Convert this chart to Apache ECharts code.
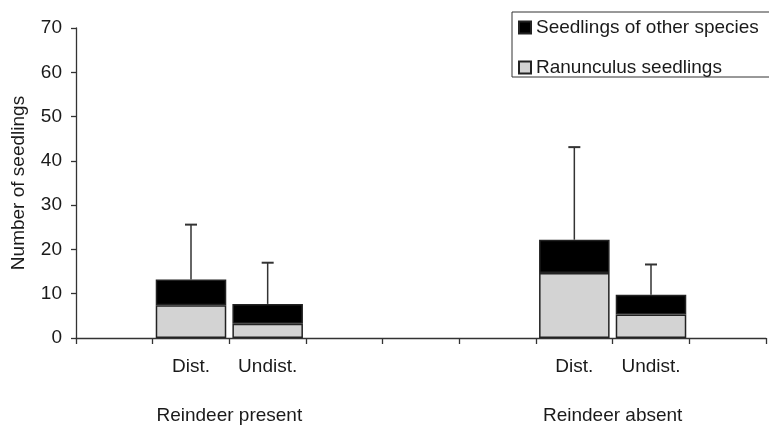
<!DOCTYPE html>
<html>
<head>
<meta charset="utf-8">
<script src="https://cdn.jsdelivr.net/npm/echarts@6/dist/echarts.min.js"></script>
<style>
html,body{margin:0;padding:0;background:#fff;}
#chart{width:769px;height:425px;}
</style>
</head>
<body>
<div id="chart"></div>
<script>
// Categories (9 slots, empty slots are spacers)
const categories = ['', 'Dist.', 'Undist.', '', '', '', 'Dist.', 'Undist.', ''];
// Group labels placed on category boundaries (10 boundaries)
const groupLabels = ['', '', 'Reindeer present', '', '', '', '', 'Reindeer absent', '', ''];
// Series values
const ranunculus = [null, 7.4, 3.2, null, null, null, 14.7, 5.3, null];
const otherSpecies = [null, 5.8, 4.5, null, null, null, 7.5, 4.45, null];
// Upper error (SD) on total
const errorUp = [null, 12.4, 9.3, null, null, null, 20.9, 6.85, null];
const yTicks = [0, 10, 20, 30, 40, 50, 60, 70];

const FONT = '"Liberation Sans", Arial, Helvetica, sans-serif';
const FS = 19;
const TXT = '#1a1a1a';
const LINE = '#333';

const errData = [];
categories.forEach((c, i) => {
  if (ranunculus[i] != null) {
    errData.push([i, ranunculus[i] + otherSpecies[i], ranunculus[i] + otherSpecies[i] + errorUp[i]]);
  }
});

const chart = echarts.init(document.getElementById('chart'), null, {renderer: 'canvas'});
chart.setOption({
  animation: false,
  backgroundColor: '#fff',
  textStyle: {fontFamily: FONT},
  grid: {left: 76, top: 28, bottom: 86, width: 700, containLabel: false},
  legend: {
    orient: 'vertical',
    left: 512, top: 12,
    data: ['Seedlings of other species', 'Ranunculus seedlings'],
    itemWidth: 12, itemHeight: 12, itemGap: 21,
    icon: 'rect',
    borderColor: '#333', borderWidth: 1,
    padding: [6, 40, 0, 6],
    textStyle: {fontFamily: FONT, fontSize: FS, color: TXT}
  },
  xAxis: [{
    type: 'category',
    data: categories,
    boundaryGap: true,
    axisLine: {lineStyle: {color: LINE, width: 1.3}},
    axisTick: {show: true, length: 6, lineStyle: {color: LINE, width: 1.3}},
    axisLabel: {interval: 0, margin: 19, fontSize: FS, color: TXT, fontFamily: FONT},
    splitLine: {show: false}
  }, {
    type: 'category',
    data: groupLabels,
    boundaryGap: false,
    position: 'bottom',
    axisLine: {show: false},
    axisTick: {show: false},
    axisLabel: {interval: 0, margin: 68, fontSize: FS, color: TXT, fontFamily: FONT},
    splitLine: {show: false}
  }],
  yAxis: {
    type: 'value',
    min: 0, max: 70, interval: 10,
    name: 'Number of seedlings',
    nameLocation: 'middle',
    nameRotate: 90,
    nameGap: 48,
    nameTextStyle: {fontSize: FS, color: TXT, fontFamily: FONT},
    axisLine: {show: true, lineStyle: {color: LINE, width: 1.3}},
    axisTick: {show: true, length: 5, lineStyle: {color: LINE, width: 1.3}},
    axisLabel: {margin: 14, fontSize: FS, color: TXT, fontFamily: FONT,
      formatter: v => yTicks.includes(v) ? String(v) : ''},
    splitLine: {show: false}
  },
  series: [{
    name: 'Ranunculus seedlings',
    type: 'bar',
    stack: 'total',
    data: ranunculus,
    barCategoryGap: '8%',
    itemStyle: {color: '#d3d3d3', borderColor: '#222', borderWidth: 1.5}
  }, {
    name: 'Seedlings of other species',
    type: 'bar',
    stack: 'total',
    data: otherSpecies,
    barCategoryGap: '8%',
    itemStyle: {color: '#000', borderColor: '#222', borderWidth: 1.5}
  }, {
    name: 'err',
    type: 'custom',
    data: errData,
    z: 1,
    renderItem: function (params, api) {
      const x = api.value(0);
      const base = api.coord([x, api.value(1)]);
      const top = api.coord([x, api.value(2)]);
      const hw = 6;
      return {
        type: 'group',
        children: [{
          type: 'line',
          shape: {x1: base[0], y1: base[1], x2: top[0], y2: top[1]},
          style: {stroke: LINE, lineWidth: 1.5}
        }, {
          type: 'line',
          shape: {x1: top[0] - hw, y1: top[1], x2: top[0] + hw, y2: top[1]},
          style: {stroke: LINE, lineWidth: 2}
        }]
      };
    }
  }]
});
</script>
</body>
</html>
